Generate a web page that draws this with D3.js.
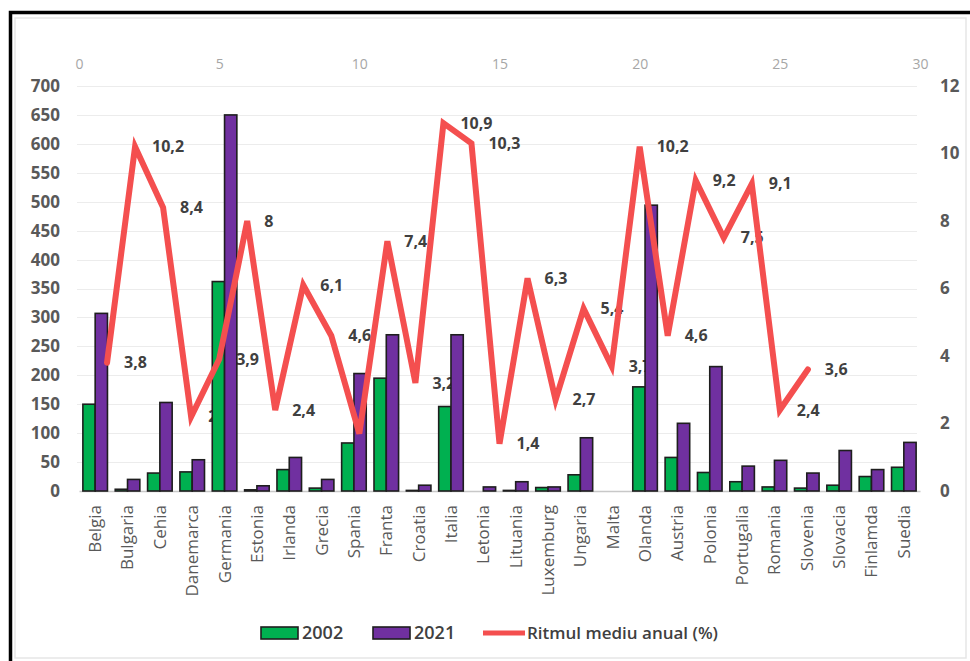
<!DOCTYPE html>
<html>
<head>
<meta charset="utf-8">
<script src="https://cdn.jsdelivr.net/npm/d3@7"></script>
<style>
  html, body { margin: 0; padding: 0; background: #fff; }
  svg { display: block; font-family: "Open Sans", "Noto Sans", sans-serif; }
</style>
</head>
<body>
<svg id="chart" width="970" height="661"></svg>
<script>
// Countries (bottom category axis)
const categories = ["Belgia","Bulgaria","Cehia","Danemarca","Germania","Estonia","Irlanda","Grecia",
  "Spania","Franta","Croatia","Italia","Letonia","Lituania","Luxemburg","Ungaria","Malta","Olanda",
  "Austria","Polonia","Portugalia","Romania","Slovenia","Slovacia","Finlamda","Suedia"];

// Bar series (left axis)
const values2002 = [150,3,31,33,362,2,37,5,83,195,1,146,0,1,6,28,0,180,58,32,16,7,5,10,25,41];
const values2021 = [307,20,153,54,650,9,58,20,203,270,10,270,7,16,7,92,0,494,117,215,43,53,31,70,37,84];

// Line series: average annual rate (%), plotted on the secondary axes (top 0–30, right 0–12)
const rateX = [1,2,3,4,5,6,7,8,9,10,11,12,13,14,15,16,17,18,19,20,21,22,23,24,25,26];
const rateValues = [3.8,10.2,8.4,2.2,3.9,8,2.4,6.1,4.6,1.7,7.4,3.2,10.9,10.3,1.4,6.3,2.7,5.4,3.7,10.2,4.6,9.2,7.5,9.1,2.4,3.6];

// Tick values
const leftTicks = d3.range(0, 701, 50);
const rightTicks = [0,2,4,6,8,10,12];
const topTicks = [0,5,10,15,20,25,30];

const seriesNames = ["2002","2021"];
const seriesColors = {"2002": "#00b050", "2021": "#7030a0"};
const lineColor = "#f44f4f";
const lineName = "Ritmul mediu anual (%)";

const svg = d3.select("#chart");

// Frame
svg.append("rect").attr("x", 15).attr("y", 18).attr("width", 951).attr("height", 640)
  .attr("fill", "none").attr("stroke", "#e6e6e6").attr("stroke-width", 1.5);
svg.append("path").attr("d", "M10.5,661 V12.5 H970")
  .attr("fill", "none").attr("stroke", "#000").attr("stroke-width", 3.5);

const plot = {left: 79, right: 920, top: 86, bottom: 491};

const x = d3.scaleBand().domain(categories).range([plot.left, plot.right])
  .paddingInner(0.24).paddingOuter(0.12);
const xs = d3.scaleBand().domain(seriesNames).range([0, x.bandwidth()]);
const y = d3.scaleLinear().domain([0, 700]).range([plot.bottom, plot.top]);
const x2 = d3.scaleLinear().domain([0, 30]).range([plot.left, plot.right]);
const y2 = d3.scaleLinear().domain([0, 12]).range([plot.bottom, plot.top]);

// Gridlines
svg.append("g").selectAll("line").data(leftTicks.filter(d => d > 0)).join("line")
  .attr("x1", plot.left - 2).attr("x2", plot.right - 3)
  .attr("y1", d => Math.round(y(d)) + 0.5).attr("y2", d => Math.round(y(d)) + 0.5)
  .attr("stroke", "#ececec").attr("stroke-width", 1.2);

// Left axis
const leftAxis = svg.append("g").attr("transform", `translate(${plot.left - 19},0)`)
  .call(d3.axisLeft(y).tickValues(leftTicks).tickSize(0).tickPadding(0));
leftAxis.select(".domain").remove();
leftAxis.selectAll("text").attr("font-size", 17).attr("font-weight", 700)
  .attr("fill", "#595959").attr("font-family", "Open Sans");

// Right axis
const rightAxis = svg.append("g").attr("transform", `translate(${plot.right + 20},0)`)
  .call(d3.axisRight(y2).tickValues(rightTicks).tickSize(0).tickPadding(0));
rightAxis.select(".domain").remove();
rightAxis.selectAll("text").attr("font-size", 17).attr("font-weight", 700)
  .attr("fill", "#595959").attr("font-family", "Open Sans");

// Top axis
const topAxis = svg.append("g").attr("transform", `translate(0,${plot.top - 17})`)
  .call(d3.axisTop(x2).tickValues(topTicks).tickSize(0).tickPadding(0));
topAxis.select(".domain").remove();
topAxis.selectAll("text").attr("font-size", 14).attr("fill", "#a6a6a6")
  .attr("font-family", "Open Sans");

// Bottom category axis
const bottomAxis = svg.append("g").attr("transform", `translate(0,${plot.bottom})`)
  .call(d3.axisBottom(x).tickSize(0).tickPadding(0));
bottomAxis.select(".domain").attr("stroke", "#c8c8c8").attr("stroke-width", 1.5);
bottomAxis.selectAll("text")
  .attr("font-size", 17).attr("fill", "#595959").attr("font-family", "Open Sans")
  .attr("transform", "rotate(-90)")
  .attr("text-anchor", "end").attr("dy", "0.35em").attr("x", -14).attr("y", 0);

// Data labels for the line (placed right of each point, under the bars)
svg.append("g").selectAll("text").data(rateValues).join("text")
  .attr("x", (d, i) => x2(rateX[i]) + 17)
  .attr("y", d => y2(d))
  .attr("dy", "0.35em")
  .attr("font-size", 16).attr("font-weight", 700).attr("fill", "#404040")
  .text(d => String(d).replace(".", ","));

// Bars
const groups = svg.append("g").selectAll("g").data(categories).join("g")
  .attr("transform", d => `translate(${x(d)},0)`);
groups.selectAll("rect").data((d, i) => [
    {s: "2002", v: values2002[i]}, {s: "2021", v: values2021[i]}
  ]).join("rect")
  .filter(d => d.v > 0)
  .attr("x", d => xs(d.s))
  .attr("width", xs.bandwidth())
  .attr("y", d => y(d.v))
  .attr("height", d => y(0) - y(d.v))
  .attr("fill", d => seriesColors[d.s])
  .attr("stroke", "#1e1e1e").attr("stroke-width", 1.6);

// Line
const line = d3.line().x((d, i) => x2(rateX[i])).y(d => y2(d));
svg.append("path").datum(rateValues)
  .attr("d", line)
  .attr("fill", "none").attr("stroke", lineColor)
  .attr("stroke-width", 6).attr("stroke-linejoin", "miter").attr("stroke-linecap", "round")
  .attr("stroke-miterlimit", 4);

// Legend
const legend = svg.append("g").attr("font-family", "Open Sans");
const legendItems = [
  {type: "bar", name: "2002", color: seriesColors["2002"], x: 261},
  {type: "bar", name: "2021", color: seriesColors["2021"], x: 373},
  {type: "line", name: lineName, color: lineColor, x: 483}
];
const ly = 633;
legendItems.forEach(it => {
  if (it.type === "bar") {
    legend.append("rect").attr("x", it.x).attr("y", ly - 6).attr("width", 37).attr("height", 12)
      .attr("fill", it.color).attr("stroke", "#1e1e1e").attr("stroke-width", 1.6);
    legend.append("text").attr("x", it.x + 41).attr("y", ly).attr("dy", "0.35em")
      .attr("font-size", 18).attr("font-weight", 600).attr("fill", "#404040").text(it.name);
  } else {
    legend.append("line").attr("x1", it.x).attr("x2", it.x + 42).attr("y1", ly).attr("y2", ly)
      .attr("stroke", it.color).attr("stroke-width", 5);
    legend.append("text").attr("x", it.x + 44).attr("y", ly).attr("dy", "0.35em")
      .attr("font-size", 17).attr("font-weight", 600).attr("fill", "#404040").text(it.name);
  }
});
</script>
</body>
</html>
